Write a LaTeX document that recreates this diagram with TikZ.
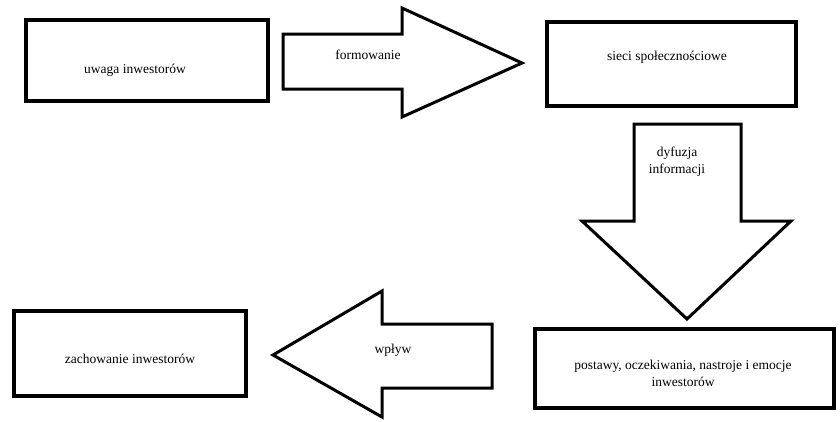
\documentclass[tikz,border=0pt]{standalone}
\usepackage{fontspec}
\setmainfont{Liberation Serif}
\tikzset{
  box/.style={draw, line width=3.5pt, inner sep=0pt},
  bigarrow/.style={draw, line width=3pt, line join=miter},
  lbl/.style={font=\fontsize{13.5}{17}\selectfont, align=center, inner sep=1pt},
}
\begin{document}
\begin{tikzpicture}[x=1pt,y=-1pt]
    \useasboundingbox (0,0) rectangle (840,421);
    % boxes
        \node[box, minimum width=242pt, minimum height=81pt] (uwaga) at (147,60.5) {};
        \node[box, minimum width=249pt, minimum height=84pt] (sieci) at (671.5,64) {};
        \node[box, minimum width=299pt, minimum height=79pt] (postawy) at (684.5,368.5) {};
        \node[box, minimum width=232pt, minimum height=85pt] (zachowanie) at (130,353.5) {};
    % box texts
        \node[lbl] (uwagaT) at (135,70) {uwaga inwestorów};
        \node[lbl] (sieciT) at (667,57) {sieci społecznościowe};
        \node[lbl] (postawyT) at (683,373.5) {postawy, oczekiwania, nastroje i emocje\\inwestorów};
        \node[lbl] (zachowanieT) at (130,359) {zachowanie inwestorów};
    % block arrows
        \draw[bigarrow] (283,34) -- (402,34) -- (402,8) -- (522,63) -- (402,117) -- (402,89) -- (283,89) -- cycle;
        \draw[bigarrow] (634,124) -- (741,124) -- (741,221) -- (791,221) -- (687,319) -- (582,221) -- (634,221) -- cycle;
        \draw[bigarrow] (492,324) -- (382,324) -- (382,291) -- (273,355) -- (382,417) -- (382,388) -- (492,388) -- cycle;
    % arrow labels
        \node[lbl] (formowanie) at (368,55) {formowanie};
        \node[lbl] (dyfuzja) at (677,162) {dyfuzja\\informacji};
        \node[lbl] (wplyw) at (393,350) {wpływ};
\end{tikzpicture}
\end{document}
